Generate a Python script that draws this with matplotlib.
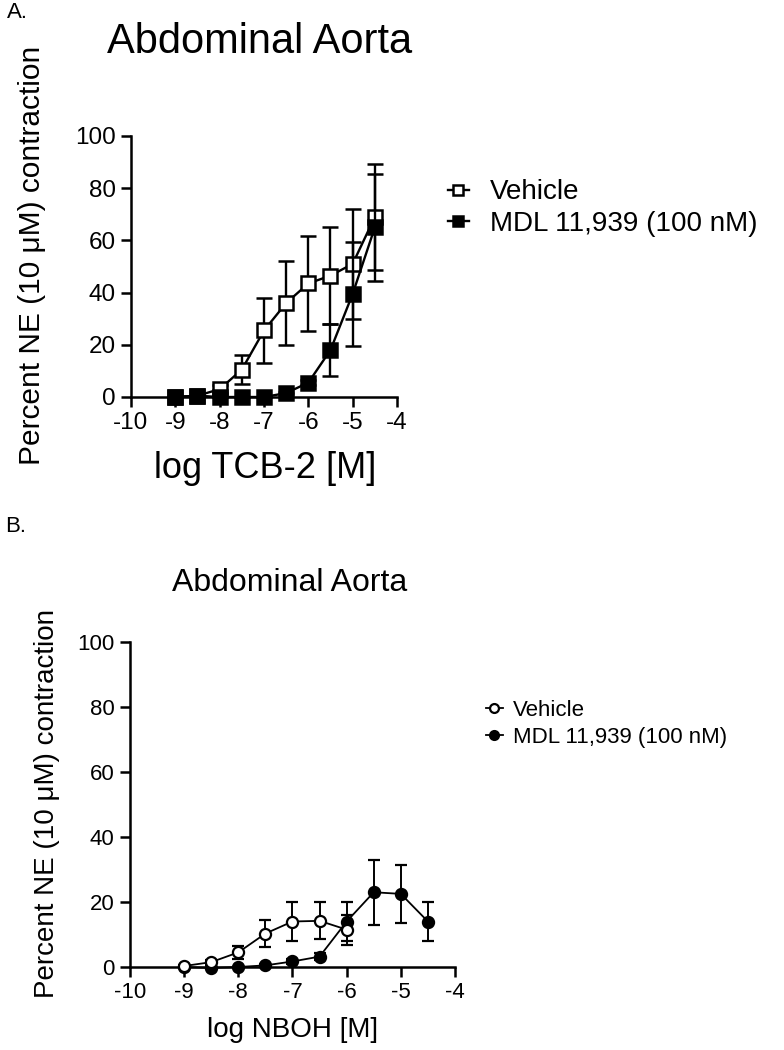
import matplotlib
matplotlib.use("Agg")
import matplotlib.pyplot as plt

plt.rcParams['font.family'] = ['Liberation Sans', 'DejaVu Sans']
plt.rcParams['axes.unicode_minus'] = False

# Panel A: TCB-2
x_a = [-9, -8.5, -8, -7.5, -7, -6.5, -6, -5.5, -5, -4.5]
veh_a = [0, 0.5, 3, 10.5, 25.5, 36, 43.5, 46.5, 51, 69]
veh_a_sem = [0, 0, 1.5, 5.5, 12.5, 16, 18.3, 18.5, 21, 20.3]
mdl_a = [0, 0.5, 0, 0, 0, 1.5, 5.5, 18, 39.5, 65]
mdl_a_sem = [0, 0, 0, 0, 0, 0.5, 1, 10, 20, 20.6]

# Panel B: NBOH
x_b_veh = [-9, -8.5, -8, -7.5, -7, -6.5, -6]
veh_b = [0.3, 1.5, 4.5, 10.3, 14, 14.2, 11.5]
veh_b_sem = [0.3, 0.8, 2, 4.2, 6, 5.7, 4.6]
x_b_mdl = [-9, -8.5, -8, -7.5, -7, -6.5, -6, -5.5, -5, -4.5]
mdl_b = [0, -0.3, 0, 0.5, 1.7, 3.2, 14, 23, 22.5, 14]
mdl_b_sem = [0, 0, 0, 0.3, 0.8, 1, 6, 10, 9, 6]

xticks = [-10, -9, -8, -7, -6, -5, -4]
yticks = [0, 20, 40, 60, 80, 100]
ylab = "Percent NE (10 \u03bcM) contraction"
labels = ["Vehicle", "MDL 11,939 (100 nM)"]

W, H = 784, 1050
fig = plt.figure(figsize=(W / 100, H / 100), dpi=100)


def px_axes(x0, x1, y0, y1):
    return fig.add_axes([x0 / W, 1 - y1 / H, (x1 - x0) / W, (y1 - y0) / H])


def px_text(x, y, s, **kw):
    fig.text(x / W, 1 - y / H, s, **kw)


def style(ax, lw, tsize):
    ax.set_xlim(-10, -4)
    ax.set_ylim(0, 100)
    ax.set_xticks(xticks)
    ax.set_yticks(yticks)
    ax.spines['top'].set_visible(False)
    ax.spines['right'].set_visible(False)
    for s in ['left', 'bottom']:
        ax.spines[s].set_linewidth(lw)
    ax.tick_params(width=lw, length=7, labelsize=tsize, pad=4)


# ---- panel A ----
axA = px_axes(131, 397, 136, 397)
style(axA, 1.8, 17.5)
ea1 = axA.errorbar(x_a, veh_a, yerr=veh_a_sem, color='black', lw=1.7,
                   marker='s', ms=10.5, mfc='white', mec='black', mew=1.8,
                   capsize=5.5, capthick=1.7, elinewidth=1.7, clip_on=False,
                   zorder=3)
ea2 = axA.errorbar(x_a, mdl_a, yerr=mdl_a_sem, color='black', lw=1.7,
                   marker='s', ms=10.5, mfc='black', mec='black', mew=1.8,
                   capsize=5.5, capthick=1.7, elinewidth=1.7, clip_on=False,
                   zorder=4)
for e in (ea1, ea2):
    for c in e[1] + e[2]:
        c.set_clip_on(False)

legA = axA.legend([ea1[0], ea2[0]], labels, loc='center left',
                  bbox_to_anchor=(448 / W, 1 - 208 / H),
                  bbox_transform=fig.transFigure, frameon=False,
                  fontsize=20, handlelength=0.75, handletextpad=0.75,
                  borderpad=0, borderaxespad=0, labelspacing=0.2,
                  markerscale=0.75)

px_text(7, 12, "A.", fontsize=16, ha='left', va='center')
px_text(260, 42, "Abdominal Aorta", fontsize=30, ha='center', va='center')
px_text(32, 255, ylab, fontsize=21.5, rotation=90, ha='center', va='center')
px_text(265, 468, "log TCB-2 [M]", fontsize=26, ha='center', va='center')

# ---- panel B ----
axB = px_axes(130, 455, 642, 967)
style(axB, 1.8, 16)
eb2 = axB.errorbar(x_b_mdl, mdl_b, yerr=mdl_b_sem, color='black', lw=1.3,
                   marker='o', ms=8, mfc='black', mec='black', mew=1.6,
                   capsize=4.3, capthick=1.4, elinewidth=1.4, clip_on=False,
                   zorder=3)
eb1 = axB.errorbar(x_b_veh, veh_b, yerr=veh_b_sem, color='black', lw=1.3,
                   marker='o', ms=8, mfc='white', mec='black', mew=1.6,
                   capsize=4.3, capthick=1.4, elinewidth=1.4, clip_on=False,
                   zorder=4)
for e in (eb1, eb2):
    for c in e[1] + e[2]:
        c.set_clip_on(False)

legB = axB.legend([eb1[0], eb2[0]], labels, loc='center left',
                  bbox_to_anchor=(486 / W, 1 - 724 / H),
                  bbox_transform=fig.transFigure, frameon=False,
                  fontsize=16, handlelength=0.75, handletextpad=0.45,
                  borderpad=0, borderaxespad=0, labelspacing=0.25,
                  markerscale=0.8)

px_text(5, 527, "B.", fontsize=16, ha='left', va='center')
px_text(290, 583, "Abdominal Aorta", fontsize=23, ha='center', va='center')
px_text(47, 803, ylab, fontsize=20, rotation=90, ha='center', va='center')
px_text(293, 1030, "log NBOH [M]", fontsize=20, ha='center', va='center')

fig.savefig("out.png", dpi=100)
